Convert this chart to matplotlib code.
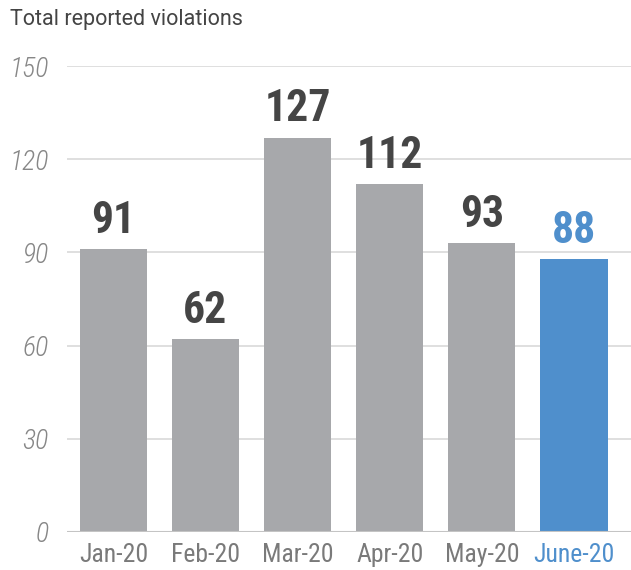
import matplotlib
matplotlib.use('Agg')
import matplotlib.pyplot as plt

# ── data ─────────────────────────────────────────────────────────────────────
months = ['Jan-20', 'Feb-20', 'Mar-20', 'Apr-20', 'May-20', 'June-20']
violations = [91, 62, 127, 112, 93, 88]
y_ticks = [0, 30, 60, 90, 120, 150]

GREY = '#a7a8ab'
BLUE = '#4f8fcc'
COND = ['Roboto Condensed', 'DejaVu Sans']

fig = plt.figure(figsize=(6.31, 5.70), dpi=100)
ax = fig.add_axes([0.106, 0.0667, 0.894, 0.8173])

x = range(len(months))
colors = [GREY] * (len(months) - 1) + [BLUE]
ax.bar(x, violations, width=0.73, color=colors, zorder=2)

for i, v in enumerate(violations):
    ax.text(i, v + 2.3, str(v), ha='center', va='bottom', fontsize=31.5,
            fontweight='bold', family=COND,
            color=BLUE if i == len(months) - 1 else '#454545')

ax.set_xlim(-0.505, 5.62)
ax.set_ylim(0, 150)
ax.set_yticks(y_ticks)
ax.set_yticklabels([str(t) for t in y_ticks], family=COND, style='italic',
                   fontweight='light', fontsize=20, color='#878787')
ax.set_xticks(list(x))
ax.set_xticklabels(months, family=COND, fontweight='normal', fontsize=18.5,
                   color='#7a7a7a')
ax.get_xticklabels()[-1].set_color(BLUE)
ax.tick_params(length=0, axis='y', pad=13)
ax.tick_params(length=0, axis='x', pad=8)

ax.grid(axis='y', color='#dcdcdc', linewidth=1.3, zorder=0)
for s in ax.spines.values():
    s.set_visible(False)
ax.axhline(0, color='#c4c4c4', linewidth=1.5, zorder=3)

fig.text(0.016, 0.965, 'Total reported violations', ha='left', va='center',
         fontsize=15.5, family=['Roboto', 'DejaVu Sans'], color='#444444')

fig.savefig('out.png', dpi=100)
